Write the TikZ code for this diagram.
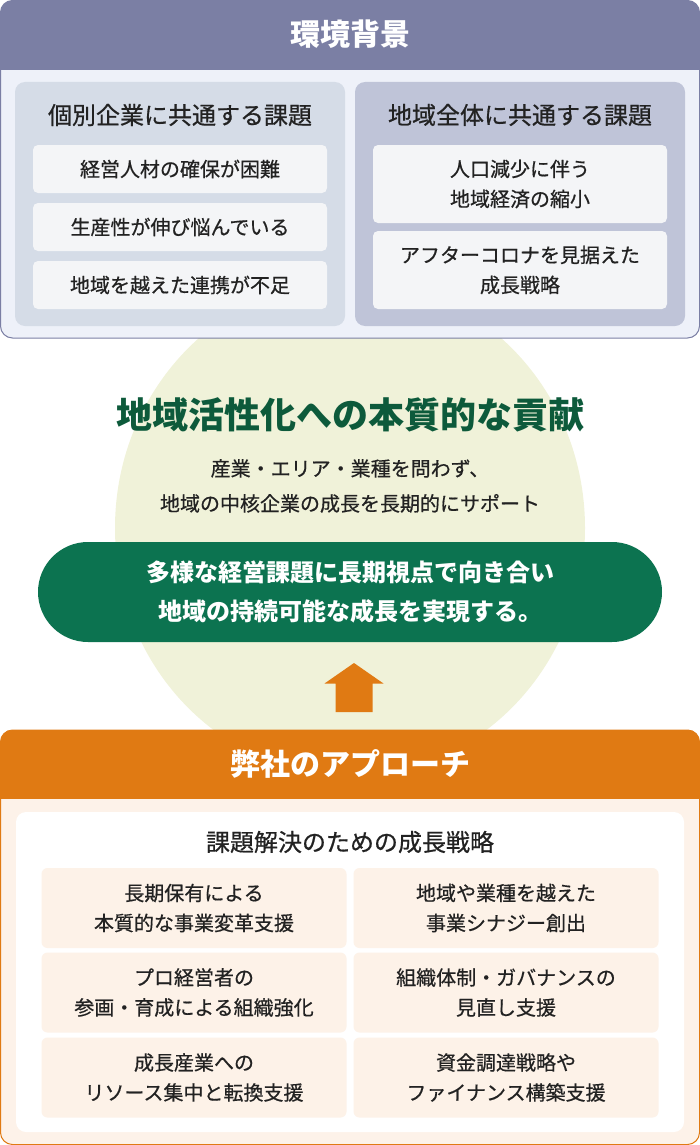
\documentclass[tikz,border=0pt]{standalone}
\usepackage{fontspec}
\setmainfont{Noto Sans CJK JP}
\newfontfamily\jpmed[FakeBold=0.6]{Noto Sans CJK JP}
\definecolor{hdr}{HTML}{7B7FA4}
\definecolor{topbg}{HTML}{EEF1F9}
\definecolor{lpanel}{HTML}{D5DCE7}
\definecolor{rpanel}{HTML}{BFC4D8}
\definecolor{item}{HTML}{F4F5F7}
\definecolor{ellc}{HTML}{F0F2D9}
\definecolor{gtitle}{HTML}{0D5A3B}
\definecolor{pillc}{HTML}{0C7350}
\definecolor{orng}{HTML}{E07A13}
\definecolor{peach}{HTML}{FDF2E9}
\definecolor{card}{HTML}{FDF2E8}
\definecolor{ink}{HTML}{222222}
\tikzset{
  txt/.style={inner sep=0pt, align=center, text=ink},
  bodyf/.style={font=\jpmed\fontsize{20}{30}\selectfont},
  headf/.style={font=\jpmed\fontsize{24}{30}\selectfont},
  titlef/.style={font=\bfseries\fontsize{30}{32}\selectfont, text=white},
  panel/.style={rounded corners=10pt, inner sep=0pt},
  itembox/.style={txt, bodyf, fill=item, rounded corners=5pt},
  cardbox/.style={txt, bodyf, fill=card, rounded corners=6pt, minimum width=305pt, minimum height=80pt},
}
\begin{document}
\begin{tikzpicture}[x=1pt,y=-1pt]
\useasboundingbox (0,0) rectangle (700,1145);
% background ellipse
\fill[ellc] (350,528) ellipse [x radius=235pt, y radius=248pt];
% ===== top box =====
\begin{scope}
  \clip[rounded corners=12pt] (0.5,0.5) rectangle (699.5,338);
  \fill[topbg] (0,0) rectangle (700,338);
  \fill[hdr] (0,0) rectangle (700,70);
\end{scope}
\draw[hdr, line width=1pt, rounded corners=12pt] (0.5,0.5) rectangle (699.5,338);
\node[titlef, inner sep=0pt] (envtitle) at (350,34) {環境背景};
\node[panel, fill=lpanel, minimum width=330pt, minimum height=244pt] (lp) at (180,204) {};
\node[panel, fill=rpanel, minimum width=330pt, minimum height=244pt] (rp) at (520,204) {};
\node[txt, headf] (lh) at (180,115) {個別企業に共通する課題};
\node[txt, headf] (rh) at (520,115) {地域全体に共通する課題};
\node[itembox, minimum width=294pt, minimum height=48pt] (l1) at (180,169) {経営人材の確保が困難};
\node[itembox, minimum width=294pt, minimum height=48pt] (l2) at (180,227) {生産性が伸び悩んでいる};
\node[itembox, minimum width=294pt, minimum height=48pt] (l3) at (180,285) {地域を越えた連携が不足};
\node[itembox, minimum width=294pt, minimum height=78pt] (r1) at (520,184) {人口減少に伴う\\地域経済の縮小};
\node[itembox, minimum width=294pt, minimum height=78pt] (r2) at (520,270) {アフターコロナを見据えた\\成長戦略};
% ===== middle =====
\node[txt, text=gtitle, font=\bfseries\fontsize{36}{40}\selectfont] (gt) at (350,415) {地域活性化への本質的な貢献};
\node[txt, font=\jpmed\fontsize{20}{35}\selectfont] (sub) at (350,486) {産業・エリア・業種を問わず、\\地域の中核企業の成長を長期的にサポート};
\node[fill=pillc, rounded corners=50pt, minimum width=624pt, minimum height=100pt, inner sep=0pt, align=center, text=white, font=\bfseries\fontsize{24}{39}\selectfont] (pill) at (350,592) {多様な経営課題に長期視点で向き合い\\地域の持続可能な成長を実現する。};
% arrow
\fill[orng] (354,663) -- (383.5,683.5) -- (372.5,683.5) -- (372.5,712) -- (335.5,712) -- (335.5,683.5) -- (324.5,683.5) -- cycle;
% ===== bottom box =====
\begin{scope}
  \clip[rounded corners=12pt] (0.5,730) rectangle (699.5,1144.5);
  \fill[peach] (0,730) rectangle (700,1145);
  \fill[orng] (0,730) rectangle (700,799);
\end{scope}
\draw[orng, line width=1pt, rounded corners=12pt] (0.5,730) rectangle (699.5,1144.5);
\node[titlef, inner sep=0pt] (apptitle) at (350,764) {弊社のアプローチ};
\node[panel, fill=white, minimum width=668pt, minimum height=320pt] (wp) at (350,972) {};
\node[txt, headf] (bh) at (350,842) {課題解決のための成長戦略};
\node[cardbox] (c1) at (194,908) {長期保有による\\本質的な事業変革支援};
\node[cardbox] (c2) at (506,908) {地域や業種を越えた\\事業シナジー創出};
\node[cardbox] (c3) at (194,992.5) {プロ経営者の\\参画・育成による組織強化};
\node[cardbox] (c4) at (506,992.5) {組織体制・ガバナンスの\\見直し支援};
\node[cardbox] (c5) at (194,1077.5) {成長産業への\\リソース集中と転換支援};
\node[cardbox] (c6) at (506,1077.5) {資金調達戦略や\\ファイナンス構築支援};
\end{tikzpicture}
\end{document}
